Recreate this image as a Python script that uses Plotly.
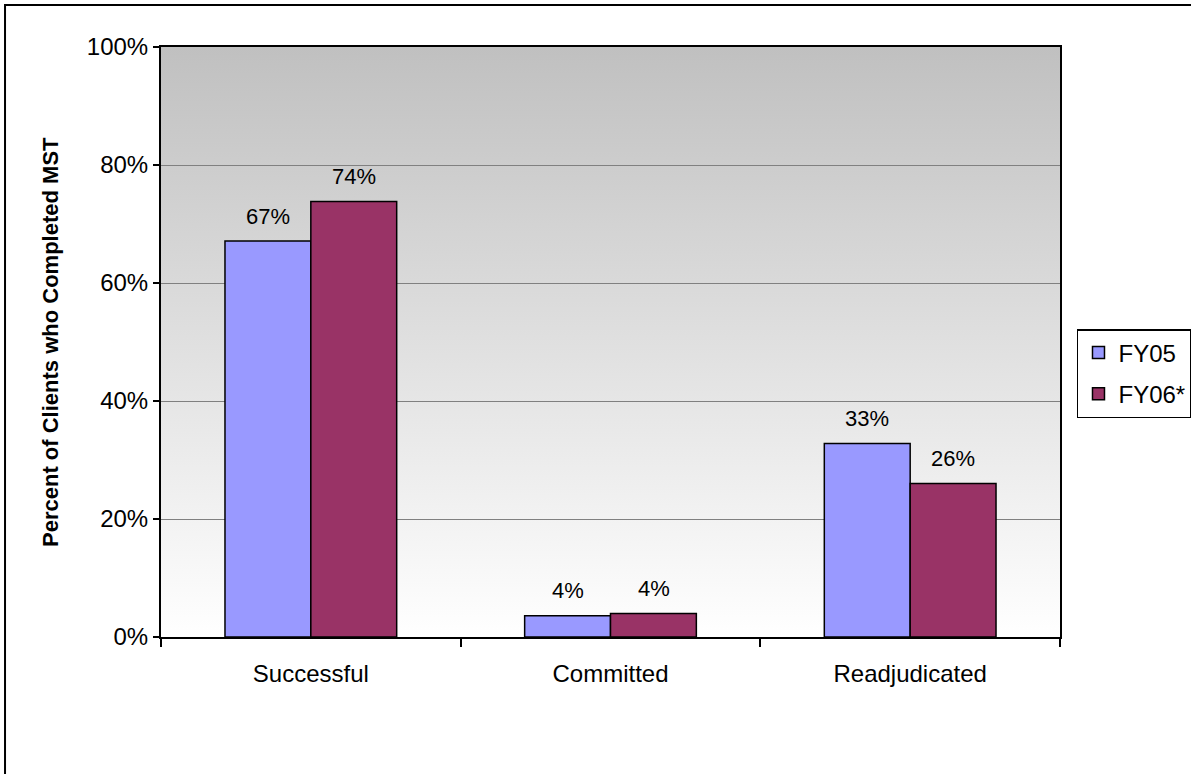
import base64
import plotly.graph_objects as go

categories = ["Successful", "Committed", "Readjudicated"]
fy05 = [67.1, 3.6, 32.8]
fy06 = [73.8, 4.0, 26.0]
series_names = ["FY05", "FY06*"]
series_colors = ["#9999FF", "#993366"]

FONT = "Liberation Sans, Arial, sans-serif"

# plot area background: grey at the top fading to white
svg = ('<svg xmlns="http://www.w3.org/2000/svg" width="10" height="100" preserveAspectRatio="none">'
       '<defs><linearGradient id="g" x1="0" y1="0" x2="0" y2="1">'
       '<stop offset="0" stop-color="#c0c0c0"/><stop offset="1" stop-color="#ffffff"/>'
       '</linearGradient></defs><rect width="10" height="100" fill="url(#g)"/></svg>')
bg_src = "data:image/svg+xml;base64," + base64.b64encode(svg.encode()).decode()

fig = go.Figure()
for i, (name, vals) in enumerate(zip(series_names, [fy05, fy06])):
    fig.add_trace(go.Bar(
        name=name, x=categories, y=vals,
        marker=dict(color=series_colors[i], line=dict(color="black", width=1.5)),
        legendgroup=name,
    ))

# value labels above each bar
for i, vals in enumerate([fy05, fy06]):
    shift = -43 if i == 0 else 43
    for c, v in zip(categories, vals):
        fig.add_annotation(x=c, y=v, text=f"{round(v)}%", showarrow=False,
                           xshift=shift, yshift=25, yanchor="middle",
                           font=dict(family=FONT, size=22, color="black"))

fig.add_annotation(x=-0.1235, y=0.5, xref="paper", yref="paper",
                   xanchor="center", yanchor="middle",
                   text="<b>Percent of Clients who Completed MST</b>", showarrow=False,
                   textangle=-90, font=dict(family=FONT, size=22, color="black"))

# outer chart border (left and top visible)
fig.add_shape(type="path", xref="paper", yref="paper",
              path="M -0.1735,-0.25 L -0.1735,1.0712 L 1.2,1.0712",
              line=dict(color="black", width=2))

fig.update_layout(
    width=1191, height=774,
    margin=dict(l=161, r=131, t=47, b=137, autoexpand=False),
    paper_bgcolor="white", plot_bgcolor="rgba(0,0,0,0)",
    barmode="group", bargap=0.427, bargroupgap=0,
    font=dict(family=FONT, size=24, color="black"),
    images=[dict(source=bg_src, xref="paper", yref="paper", x=0, y=1,
                 sizex=1, sizey=1, sizing="stretch", layer="below")],
    legend=dict(x=1.0189, y=0.522, xanchor="left", yanchor="top",
                bordercolor="black", borderwidth=1.5, bgcolor="white",
                font=dict(family=FONT, size=24), tracegroupgap=7),
    xaxis=dict(showline=True, linecolor="black", linewidth=2, mirror=True,
               ticks="outside", ticklen=8, tickwidth=2, tickcolor="black",
               tickson="boundaries", ticklabelstandoff=14,
               tickfont=dict(size=24)),
    yaxis=dict(range=[0, 100], dtick=20, ticksuffix="%", showline=True,
               linecolor="black", linewidth=2, mirror=True,
               ticks="outside", ticklen=6, tickwidth=2, tickcolor="black",
               showgrid=True, gridcolor="#808080", gridwidth=1,
               zeroline=False, tickfont=dict(size=24)),
)

# drop the page's default body margin so the figure sits at the window corner
fig.write_html("out.html", config={"displayModeBar": False},
               post_script="document.body.style.margin='0';")
